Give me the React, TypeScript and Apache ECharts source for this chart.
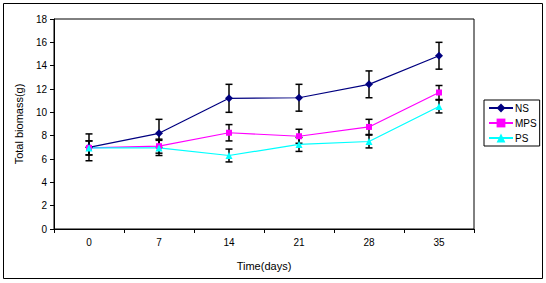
import React, { useEffect, useRef } from "react";
import * as echarts from "echarts";

const categories = ["0", "7", "14", "21", "28", "35"];
const nsValues = [7.0, 8.2, 11.2, 11.25, 12.4, 14.85];
const nsErrors = [1.15, 1.2, 1.2, 1.15, 1.15, 1.15];
const mpsValues = [6.95, 7.1, 8.25, 7.95, 8.75, 11.7];
const mpsErrors = [0.6, 0.6, 0.7, 0.6, 0.65, 0.6];
const psValues = [6.95, 6.95, 6.3, 7.25, 7.5, 10.5];
const psErrors = [0.6, 0.65, 0.55, 0.6, 0.55, 0.55];

const FONT = "Liberation Sans, Arial, sans-serif";

function errorSeries(name: string, values: number[], errors: number[]) {
  const data = values.map((v, i) => [i, v - errors[i], v + errors[i]]);
  return {
    type: "custom",
    name: name + "-err",
    z: 1,
    silent: true,
    data,
    encode: { x: 0, y: [1, 2] },
    renderItem: (params: any, api: any) => {
      const x = api.value(0);
      const lo = api.coord([x, api.value(1)]);
      const hi = api.coord([x, api.value(2)]);
      const w = 3.5;
      const style = { stroke: "#000", lineWidth: 1.5, fill: "none" };
      return {
        type: "group",
        children: [
          { type: "line", shape: { x1: lo[0], y1: lo[1], x2: hi[0], y2: hi[1] }, style },
          { type: "line", shape: { x1: lo[0] - w, y1: lo[1], x2: lo[0] + w, y2: lo[1] }, style },
          { type: "line", shape: { x1: hi[0] - w, y1: hi[1], x2: hi[0] + w, y2: hi[1] }, style },
        ],
      };
    },
  };
}

export default function App() {
  const ref = useRef<HTMLDivElement>(null);
  useEffect(() => {
    document.body.style.margin = "0";
    const chart = echarts.init(ref.current!, null, { renderer: "svg" });
    const lineSeries = (name: string, values: number[], color: string, symbol: string, size: number) => ({
      type: "line",
      name,
      data: values,
      z: 3,
      symbol,
      symbolSize: size,
      showAllSymbol: true,
      lineStyle: { color, width: 1.2 },
      itemStyle: { color, borderWidth: 0 },
    });
    chart.setOption({
      animation: false,
      backgroundColor: "#fff",
      textStyle: { fontFamily: FONT },
      grid: {
        left: 54,
        top: 19,
        right: 72,
        bottom: 54,
        show: true,
        borderColor: "#000",
        borderWidth: 1,
        backgroundColor: "transparent",
      },
      graphic: [
        {
          type: "rect",
          shape: { x: 3.5, y: 3.5, width: 539, height: 275 },
          style: { fill: "none", stroke: "#000", lineWidth: 1 },
          z: 100,
        },
      ],
      legend: {
        orient: "vertical",
        left: 484,
        top: 100,
        width: 55,
        padding: [3, 3, 3, 4],
        itemGap: 5,
        itemWidth: 24,
        itemHeight: 11,
        borderColor: "#000",
        borderWidth: 1,
        data: ["NS", "MPS", "PS"],
        textStyle: { fontFamily: FONT, fontSize: 10, color: "#000", padding: [0, 0, 0, -3] },
      },
      xAxis: {
        type: "category",
        data: categories,
        boundaryGap: true,
        name: "Time(days)",
        nameLocation: "middle",
        nameGap: 31,
        nameTextStyle: { fontFamily: FONT, fontSize: 11, color: "#000" },
        axisLine: { lineStyle: { color: "#000", width: 1 } },
        axisTick: { show: true, alignWithLabel: false, interval: 0, length: 4, lineStyle: { color: "#000" } },
        axisLabel: { fontFamily: FONT, fontSize: 10, color: "#000", margin: 8 },
        splitLine: { show: false },
      },
      yAxis: {
        type: "value",
        min: 0,
        max: 18,
        interval: 2,
        name: "Total biomass(g)",
        nameLocation: "middle",
        nameGap: 30,
        nameTextStyle: { fontFamily: FONT, fontSize: 11, color: "#000" },
        axisLine: { show: true, lineStyle: { color: "#000", width: 1 } },
        axisTick: { show: true, length: 4, lineStyle: { color: "#000" } },
        axisLabel: { fontFamily: FONT, fontSize: 10, color: "#000", margin: 7 },
        splitLine: { show: false },
      },
      series: [
        errorSeries("NS", nsValues, nsErrors),
        errorSeries("MPS", mpsValues, mpsErrors),
        errorSeries("PS", psValues, psErrors),
        lineSeries("NS", nsValues, "#000080", "diamond", 8),
        lineSeries("MPS", mpsValues, "#FF00FF", "rect", 6),
        lineSeries("PS", psValues, "#00FFFF", "triangle", 7),
      ],
    });
    return () => chart.dispose();
  }, []);
  return <div ref={ref} style={{ width: 546, height: 283 }} />;
}
